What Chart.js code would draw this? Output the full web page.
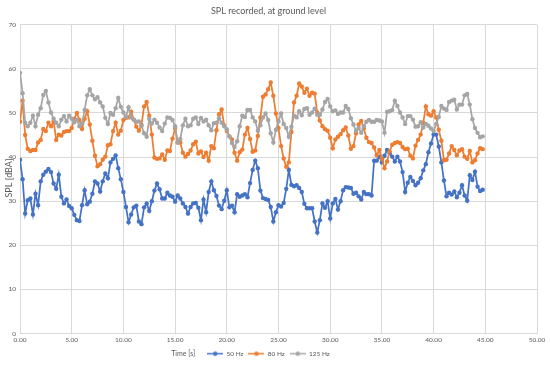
<!DOCTYPE html>
<html>
<head>
<meta charset="utf-8">
<script src="https://cdn.jsdelivr.net/npm/chart.js@4/dist/chart.umd.min.js"></script>
<style>
    html, body { margin: 0; padding: 0; background: #ffffff; }
    #splChart { display: block; }
</style>
</head>
<body>
<canvas id="splChart" width="550" height="370"></canvas>
<script>

// Recorded levels, one reading every 0.25 s
const sampleStep = 0.25;

const hz50 = [
    39.4, 35.0, 27.2, 30.2, 30.6, 27.0, 31.7, 29.1, 34.5, 36.0,
    36.7, 37.3, 36.6, 34.0, 32.8, 36.0, 31.0, 29.5, 30.4, 28.9,
    28.4, 26.9, 25.7, 25.5, 29.1, 32.5, 29.3, 29.9, 31.7, 34.5,
    34.0, 32.2, 34.5, 36.3, 35.2, 38.8, 39.6, 40.4, 37.5, 35.0,
    32.1, 28.7, 25.2, 27.0, 28.6, 29.0, 25.4, 24.8, 28.6, 29.5,
    27.8, 30.0, 32.4, 34.0, 32.7, 30.6, 30.6, 31.9, 31.3, 31.0,
    29.9, 31.3, 30.6, 29.5, 28.7, 27.2, 28.7, 29.5, 29.6, 28.5,
    25.7, 30.4, 27.5, 32.1, 34.5, 32.5, 31.2, 29.0, 28.2, 30.1,
    32.5, 28.6, 29.0, 27.5, 31.6, 31.0, 31.3, 31.6, 30.9, 34.1,
    37.1, 39.2, 37.5, 32.4, 30.7, 30.5, 30.3, 28.7, 25.4, 27.5,
    29.1, 28.8, 29.6, 32.8, 37.1, 33.7, 33.4, 33.6, 33.0, 32.1,
    29.4, 28.4, 28.4, 28.4, 25.4, 22.9, 25.7, 29.5, 28.5, 30.0,
    26.1, 29.5, 30.5, 28.1, 30.0, 32.5, 33.2, 33.1, 33.0, 31.7,
    31.9, 31.1, 30.4, 32.1, 31.6, 31.6, 31.3, 39.2, 39.2, 40.1,
    38.8, 40.3, 41.6, 40.9, 40.1, 39.0, 40.1, 39.0, 36.6, 32.1,
    34.2, 35.5, 34.6, 33.6, 34.2, 35.2, 37.0, 38.4, 41.1, 43.1,
    45.1, 45.1, 42.4, 38.8, 34.7, 31.1, 31.9, 31.5, 32.2, 30.9,
    31.9, 33.6, 31.3, 30.1, 35.9, 34.8, 36.7, 33.3, 32.3, 32.6
];

const hz80 = [
    48.0, 52.8, 45.0, 41.9, 41.4, 41.6, 41.6, 43.3, 43.9, 46.4,
    45.9, 47.8, 47.0, 48.1, 43.9, 45.1, 44.9, 45.7, 45.9, 45.9,
    46.6, 48.7, 50.0, 48.4, 46.4, 48.7, 50.4, 47.4, 43.7, 40.3,
    37.9, 38.4, 39.4, 40.1, 42.7, 42.9, 45.9, 47.8, 45.1, 46.0,
    48.4, 48.9, 49.0, 50.3, 48.5, 46.9, 46.0, 47.3, 51.5, 52.5,
    49.4, 45.1, 39.9, 39.6, 39.7, 40.6, 39.4, 41.5, 41.4, 44.2,
    46.6, 43.3, 43.3, 41.0, 40.1, 40.7, 41.5, 42.9, 43.5, 40.8,
    41.3, 40.0, 41.0, 39.2, 42.5, 42.0, 46.1, 49.7, 50.8, 47.2,
    45.9, 44.7, 44.0, 41.0, 39.2, 41.1, 41.7, 45.1, 46.6, 44.1,
    41.2, 41.5, 44.8, 49.0, 53.7, 54.2, 55.4, 56.9, 53.9, 49.9,
    46.6, 42.5, 39.7, 37.8, 38.8, 45.7, 52.4, 53.9, 56.7, 56.0,
    54.6, 55.5, 53.9, 54.6, 54.4, 50.1, 48.3, 47.0, 46.3, 46.0,
    44.4, 42.0, 44.0, 44.6, 45.2, 46.1, 46.7, 44.9, 41.9, 42.5,
    45.4, 47.4, 48.2, 46.5, 44.4, 43.4, 43.2, 42.2, 40.4, 41.6,
    39.6, 37.5, 39.0, 41.3, 42.8, 43.2, 43.4, 43.2, 42.3, 41.8,
    41.9, 40.3, 39.7, 42.6, 43.9, 45.1, 47.8, 51.5, 49.7, 49.4,
    50.4, 49.0, 46.2, 43.7, 39.3, 39.4, 40.8, 42.5, 41.6, 40.4,
    41.5, 41.8, 40.1, 39.6, 41.4, 38.8, 39.3, 40.8, 42.0, 41.8
];

const hz125 = [
    59.1, 54.5, 47.8, 47.0, 47.8, 49.4, 47.0, 49.6, 51.1, 54.1,
    55.0, 52.4, 50.1, 48.7, 47.8, 47.0, 48.5, 49.3, 48.1, 49.4,
    48.7, 47.9, 48.5, 47.0, 47.6, 50.7, 54.0, 55.4, 54.0, 53.1,
    53.6, 52.4, 51.5, 48.9, 47.5, 50.0, 49.6, 51.1, 53.4, 51.4,
    50.1, 49.1, 51.3, 49.0, 48.5, 48.0, 48.1, 47.1, 45.4, 44.6,
    48.7, 47.6, 48.5, 47.8, 46.7, 45.9, 47.6, 49.0, 48.9, 48.4,
    47.0, 43.3, 44.1, 47.2, 48.7, 47.0, 47.2, 48.7, 49.0, 47.5,
    48.9, 48.1, 48.5, 47.2, 46.1, 47.7, 47.8, 48.8, 47.8, 47.0,
    46.3, 44.7, 43.2, 42.3, 43.6, 47.0, 49.4, 49.1, 50.7, 50.7,
    49.0, 48.1, 46.0, 47.2, 49.0, 49.9, 48.4, 45.4, 43.3, 46.2,
    48.1, 49.9, 47.5, 46.6, 44.6, 46.9, 49.4, 49.0, 50.4, 49.5,
    50.9, 51.1, 49.6, 50.1, 51.0, 49.6, 49.6, 50.8, 52.5, 53.2,
    51.5, 50.4, 50.6, 49.8, 50.1, 50.1, 51.6, 50.9, 48.8, 47.4,
    45.9, 46.6, 45.5, 47.0, 48.0, 48.4, 48.0, 48.0, 48.4, 48.3,
    48.1, 45.5, 50.3, 50.4, 50.7, 52.8, 51.6, 50.1, 49.0, 47.5,
    49.3, 49.3, 48.5, 46.9, 47.0, 47.9, 46.7, 47.5, 47.1, 46.5,
    45.9, 47.5, 49.1, 51.6, 51.0, 50.7, 52.5, 52.8, 53.0, 50.8,
    51.9, 51.9, 54.0, 54.3, 51.9, 48.6, 46.6, 45.5, 44.5, 44.7
];

const times = hz50.map((_, i) => i * sampleStep);

const seriesNames = ["50 Hz", "80 Hz", "125 Hz"];
const seriesColors = ["#4472C4", "#ED7D31", "#A5A5A5"];

const textColor = "#595959";
const gridColor = "#D9D9D9";
const fontFamily = "Lato, 'Liberation Sans', sans-serif";

function toPoints(values) {
    return values.map((v, i) => ({ x: times[i], y: v }));
}

// line with a dot in the middle, like the office legend key
function legendIcon(color) {
    const c = document.createElement("canvas");
    c.width = 16;
    c.height = 7;
    const g = c.getContext("2d");
    g.strokeStyle = color;
    g.lineWidth = 1.5;
    g.beginPath();
    g.moveTo(0, 3.5);
    g.lineTo(16, 3.5);
    g.stroke();
    g.fillStyle = color;
    g.beginPath();
    g.arc(8, 3.5, 2.2, 0, Math.PI * 2);
    g.fill();
    return c;
}

const legendIcons = seriesColors.map(legendIcon);

function makeDataset(i, values) {
    return {
        label: seriesNames[i],
        data: toPoints(values),
        borderColor: seriesColors[i],
        backgroundColor: seriesColors[i],
        borderWidth: 1.75,
        pointRadius: 2.2,
        pointBorderWidth: 0,
        pointBackgroundColor: seriesColors[i],
        tension: 0,
        // later series sit on top, as in the original
        order: 3 - i
    };
}

const extraText = {
    id: "extraText",
    afterDraw(chart) {
        const ctx = chart.ctx;
        ctx.save();
        ctx.fillStyle = textColor;

        // y axis title
        ctx.font = "9px " + fontFamily;
        ctx.textAlign = "center";
        ctx.textBaseline = "middle";
        ctx.translate(9, 178);
        ctx.rotate(-Math.PI / 2);
        ctx.fillText("SPL [dBA]", 0, 0);
        ctx.setTransform(1, 0, 0, 1, 0, 0);

        // x axis title, left of the legend
        const hit = chart.legend.legendHitBoxes[0];
        if (hit) {
            ctx.font = "7px " + fontFamily;
            ctx.textAlign = "right";
            ctx.fillText("Time [s]", hit.left - 12, hit.top + hit.height / 2);
        }
        ctx.restore();
    }
};

new Chart(
    document.getElementById("splChart"),
    {
        type: "line",

        data: {
            datasets: [
                makeDataset(0, hz50),
                makeDataset(1, hz80),
                makeDataset(2, hz125)
            ]
        },

        options: {
            responsive: false,
            animation: false,

            layout: {
                padding: { left: 0, right: 13, top: 0, bottom: 3 }
            },

            plugins: {
                title: {
                    display: true,
                    text: "SPL recorded, at ground level",
                    color: textColor,
                    font: { family: fontFamily, size: 9, weight: "normal" },
                    padding: { top: 6, bottom: 8 }
                },
                legend: {
                    position: "bottom",
                    labels: {
                        color: textColor,
                        font: { family: fontFamily, size: 6.5 },
                        usePointStyle: true,
                        pointStyleWidth: 16,
                        boxHeight: 7,
                        padding: 5,
                        generateLabels: chart =>
                            chart.data.datasets.map((ds, i) => ({
                                text: ds.label,
                                fillStyle: ds.borderColor,
                                strokeStyle: ds.borderColor,
                                lineWidth: 0,
                                pointStyle: legendIcons[i],
                                fontColor: textColor,
                                hidden: !chart.isDatasetVisible(i),
                                datasetIndex: i
                            }))
                    }
                },
                tooltip: { enabled: false }
            },

            scales: {
                x: {
                    type: "linear",
                    min: 0,
                    max: 50,
                    afterFit: s => { s.height = 12; },
                    ticks: {
                        stepSize: 5,
                        color: textColor,
                        font: { family: fontFamily, size: 6.5 },
                        padding: 3,
                        maxRotation: 0,
                        autoSkip: false,
                        callback: v => Number(v).toFixed(2)
                    },
                    grid: {
                        color: gridColor,
                        lineWidth: 1,
                        drawTicks: false
                    },
                    border: { color: gridColor }
                },
                y: {
                    min: 0,
                    max: 70,
                    afterFit: s => { s.width = 20; },
                    ticks: {
                        stepSize: 10,
                        color: textColor,
                        font: { family: fontFamily, size: 6.5 },
                        padding: 4
                    },
                    grid: {
                        color: gridColor,
                        lineWidth: 1,
                        drawTicks: false
                    },
                    border: { display: false }
                }
            }
        },

        plugins: [extraText]
    }
);

</script>
</body>
</html>
